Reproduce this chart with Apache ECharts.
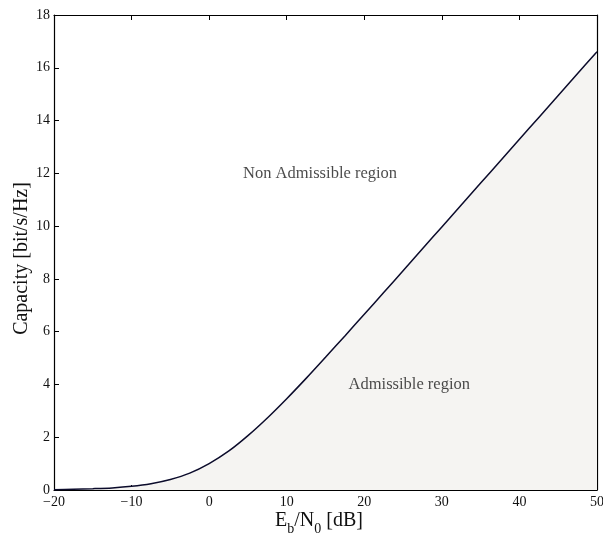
<!DOCTYPE html>
<html>
<head>
<meta charset="utf-8">
<script src="https://cdn.jsdelivr.net/npm/echarts@6/dist/echarts.min.js"></script>
<style>html,body{margin:0;padding:0;background:#fff}#c{width:603px;height:535px}</style>
</head>
<body>
<div id="c"></div>
<script>
// Eb/N0 [dB] sample positions and capacity values
var ebn0 = [-20, -17.5, -15, -12.5, -10, -7.5, -5, -2.5, 0, 2.5, 5, 7.5, 10, 12.5, 15, 17.5, 20, 22.5, 25, 27.5, 30, 32.5, 35, 37.5, 40, 42.5, 45, 47.5, 50];
var capacity = [0.01, 0.03, 0.05, 0.08, 0.14, 0.24, 0.40, 0.64, 1.00, 1.47, 2.06, 2.73, 3.46, 4.23, 5.03, 5.84, 6.66, 7.48, 8.31, 9.14, 9.97, 10.80, 11.63, 12.46, 13.29, 14.12, 14.95, 15.78, 16.61];
var xTicks = [-20, -10, 0, 10, 20, 30, 40, 50];
var yTicks = [0, 2, 4, 6, 8, 10, 12, 14, 16, 18];
var labels = [
  {text: 'Non Admissible region', x: 14.3, y: 12.0},
  {text: 'Admissible region', x: 25.8, y: 4.0}
];

var FONT = '"Liberation Serif", "Times New Roman", serif';
var chart = echarts.init(document.getElementById('c'));
var pts = ebn0.map(function (x, i) { return [x, capacity[i]]; });

function fmtX(v) { return (v < 0 ? '\u2212' + (-v) : '' + v); }

var axisLineStyle = {color: '#000', width: 1.2};
var tick = {show: true, inside: true, length: 5, lineStyle: {color: '#000'}};
var option = {
  animation: false,
  backgroundColor: '#fff',
  grid: {left: 54, right: 6, top: 15, bottom: 45, containLabel: false, outerBoundsMode: 'none'},
  xAxis: [{
    type: 'value', min: -20, max: 50, interval: 10,
    axisLine: {show: true, onZero: false, lineStyle: axisLineStyle},
    axisTick: tick,
    axisLabel: {color: '#111', fontFamily: FONT, fontSize: 14, margin: 5, formatter: fmtX},
    splitLine: {show: false}
  }, {
    type: 'value', position: 'top', min: -20, max: 50, interval: 10,
    axisLine: {show: true, onZero: false, lineStyle: axisLineStyle},
    axisTick: tick,
    axisLabel: {show: false}, splitLine: {show: false}
  }],
  yAxis: [{
    type: 'value', min: 0, max: 18, interval: 2,
    axisLine: {show: true, onZero: false, lineStyle: axisLineStyle},
    axisTick: tick,
    axisLabel: {color: '#111', fontFamily: FONT, fontSize: 14, margin: 4},
    splitLine: {show: false},
    name: 'Capacity [bit/s/Hz]', nameLocation: 'middle', nameGap: 22, nameMoveOverlap: false,
    nameTextStyle: {fontFamily: FONT, fontSize: 20, color: '#111', padding: [0, 12, 0, 0]}
  }, {
    type: 'value', position: 'right', min: 0, max: 18, interval: 2,
    axisLine: {show: true, onZero: false, lineStyle: axisLineStyle},
    axisTick: tick,
    axisLabel: {show: false}, splitLine: {show: false}
  }],
  graphic: [{
    type: 'text', x: 319, y: 511, z: 10,
    style: {
      text: '{m|E}{s|b}{m|/N}{s|0}{m| [dB]}',
      align: 'center', verticalAlign: 'top',
      rich: {
        m: {fontFamily: FONT, fontSize: 20, lineHeight: 22, fill: '#111', verticalAlign: 'top'},
        s: {fontFamily: FONT, fontSize: 14, lineHeight: 16, fill: '#111', verticalAlign: 'top', padding: [11, 0, 0, 0]}
      }
    }
  }],
  series: [{
    type: 'line', data: pts, smooth: 0.3, showSymbol: false,
    lineStyle: {color: '#0b0b2b', width: 1.5},
    areaStyle: {color: '#f5f4f2', opacity: 1, origin: 'start'},
    z: 2
  }, {
    type: 'scatter', symbolSize: 0, silent: true,
    data: labels.map(function (l) { return {value: [l.x, l.y], name: l.text}; }),
    label: {show: true, position: 'inside', formatter: '{b}', fontFamily: FONT, fontSize: 16.5, color: '#1a1a1a'},
    z: 5
  }]
};
chart.setOption(option);
</script>
</body>
</html>
